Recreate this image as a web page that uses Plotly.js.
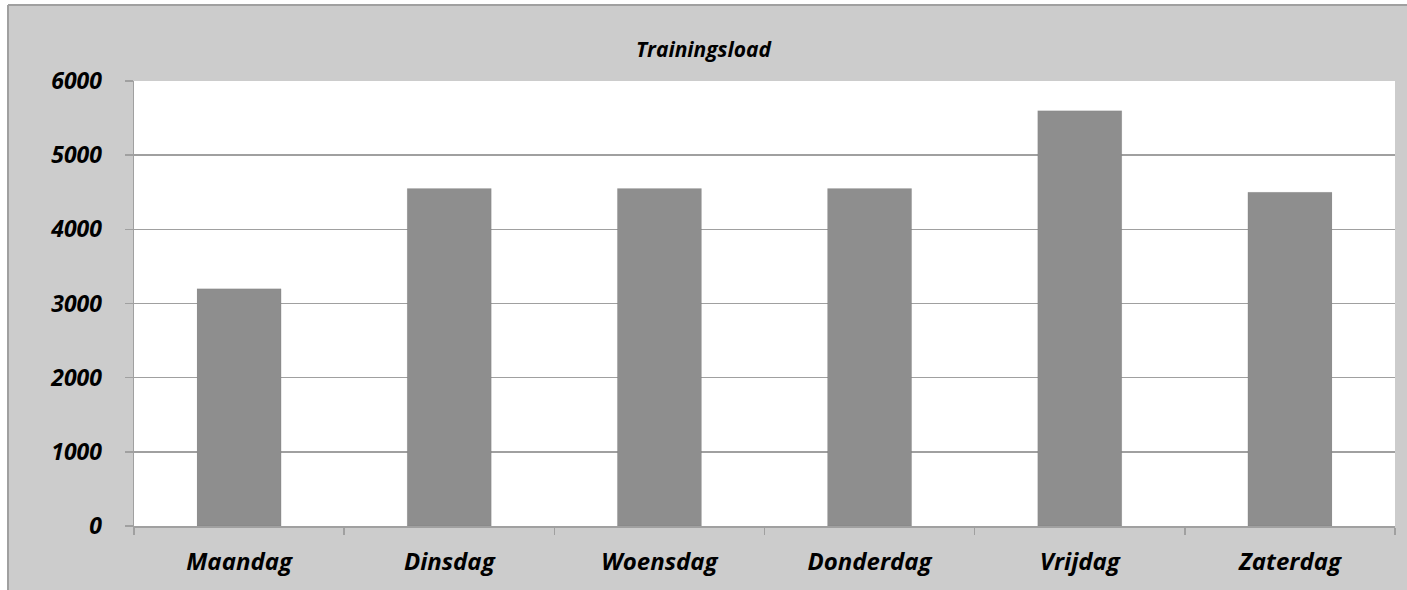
<!DOCTYPE html>
<html>
<head>
<meta charset="utf-8">
<script src="https://cdn.plot.ly/plotly-3.0.1.min.js"></script>
<style>html,body{margin:0;padding:0;background:#cccccc;overflow:hidden;}#chart{width:1407px;height:590px;}</style>
</head>
<body>
<div id="chart"></div>
<script>
const categories = ["Maandag", "Dinsdag", "Woensdag", "Donderdag", "Vrijdag", "Zaterdag"];
const trainingsload = [3200, 4550, 4550, 4550, 5600, 4500];
const yTicks = [0, 1000, 2000, 3000, 4000, 5000, 6000];
const chartTitle = "Trainingsload";

const FONT = "'Open Sans', 'DejaVu Sans', sans-serif";

const trace = {
  type: "bar",
  x: categories,
  y: trainingsload,
  marker: { color: "#8e8e8e", line: { color: "rgba(0,0,0,0.06)", width: 1 } },
  hoverinfo: "x+y"
};

const bx = (8 - 134) / 1261;   // chart-area border, left
const by = (526 - 5) / 445;    // chart-area border, top

const layout = {
  width: 1407,
  height: 590,
  margin: { l: 134, r: 12, t: 81, b: 64 },
  paper_bgcolor: "#cccccc",
  plot_bgcolor: "#ffffff",
  bargap: 0.6,
  showlegend: false,
  title: {
    text: "<b><i>" + chartTitle + "</i></b>",
    font: { family: FONT, size: 21, color: "#000" },
    x: 0.5, xanchor: "center",
    y: 1 - 50 / 590, yanchor: "middle", yref: "container"
  },
  xaxis: {
    type: "category",
    tickson: "boundaries",
    ticks: "outside",
    ticklen: 7,
    tickwidth: 1.5,
    tickcolor: "#a0a0a0",
    showline: true,
    linecolor: "#a0a0a0",
    linewidth: 1.5,
    showgrid: false,
    ticklabelstandoff: 14,
    tickfont: { family: FONT, size: 24, color: "#000", weight: "bold", style: "italic" }
  },
  yaxis: {
    range: [0, 6000],
    tickvals: yTicks,
    ticktext: yTicks.map(String),
    ticks: "outside",
    ticklen: 8,
    tickwidth: 1.5,
    tickcolor: "#a0a0a0",
    showline: true,
    linecolor: "#a0a0a0",
    linewidth: 1.5,
    showgrid: true,
    gridcolor: "#a0a0a0",
    gridwidth: 1.5,
    zeroline: false,
    ticklabelstandoff: 18,
    tickfont: { family: FONT, size: 23, color: "#000", weight: "bold", style: "italic" }
  },
  shapes: [
    { type: "rect", xref: "paper", yref: "paper", layer: "below",
      x0: -0.2, x1: bx, y0: -0.3, y1: 1.3, fillcolor: "#ffffff", line: { width: 0 } },
    { type: "rect", xref: "paper", yref: "paper", layer: "below",
      x0: -0.2, x1: 1.2, y0: by, y1: 1.3, fillcolor: "#ffffff", line: { width: 0 } },
    { type: "line", xref: "paper", yref: "paper", layer: "below",
      x0: bx, x1: bx, y0: -0.3, y1: by, line: { color: "#a0a0a0", width: 2 } },
    { type: "line", xref: "paper", yref: "paper", layer: "below",
      x0: bx, x1: 1.2, y0: by, y1: by, line: { color: "#a0a0a0", width: 2 } }
  ]
};

Plotly.newPlot("chart", [trace], layout, { displayModeBar: false, staticPlot: true });
</script>
</body>
</html>
